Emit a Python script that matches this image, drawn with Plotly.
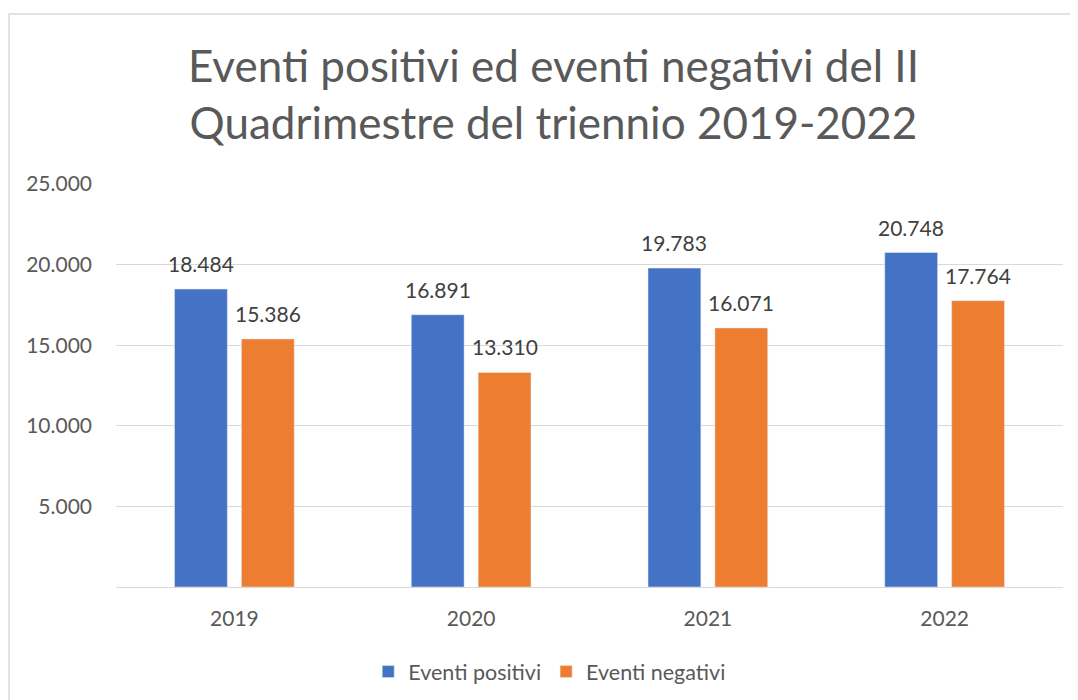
import plotly.graph_objects as go

years = ["2019", "2020", "2021", "2022"]
positivi = [18484, 16891, 19783, 20748]
negativi = [15386, 13310, 16071, 17764]
tick_vals = [0, 5000, 10000, 15000, 20000, 25000]
tick_text = ["", "5.000", "10.000", "15.000", "20.000", "25.000"]

FONT = "Lato"
BLUE = "#4472C4"
ORANGE = "#ED7D31"

def fmt(v):
    return f"{v:,}".replace(",", ".")

fig = go.Figure()
fig.add_trace(go.Bar(x=years, y=positivi, name="Eventi positivi", marker_color=BLUE))
fig.add_trace(go.Bar(x=years, y=negativi, name="Eventi negativi", marker_color=ORANGE))

annotations = []
for series, shift in ((positivi, -33.5), (negativi, 33.5)):
    for i, v in enumerate(series):
        annotations.append(dict(
            x=i, y=v, xref="x", yref="y", text=fmt(v), showarrow=False,
            xshift=shift, yanchor="bottom", yshift=11,
            font=dict(family=FONT, size=21, color="#404040"),
        ))

fig.update_layout(
    width=1078, height=700,
    margin=dict(l=108, r=23, t=176, b=121, autoexpand=False),
    paper_bgcolor="white", plot_bgcolor="white",
    barmode="group", bargap=0.435, bargroupgap=0.21,
    separators=",.",
    title=dict(
        text="Eventi positivi ed eventi negativi del II<br>Quadrimestre del triennio 2019-2022",
        x=0.506, xanchor="center", xref="container",
        y=1 - 74 / 700, yanchor="middle", yref="container",
        font=dict(family=FONT, size=44, color="#595959"),
    ),
    font=dict(family=FONT, color="#595959"),
    xaxis=dict(
        type="category", range=[-0.5, len(years) - 0.5],
        showgrid=False, showline=False, ticks="",
        tickfont=dict(family=FONT, size=21, color="#595959"),
        ticklabelstandoff=17,
    ),
    yaxis=dict(
        range=[0, 25000], tickvals=tick_vals, ticktext=tick_text,
        showgrid=True, gridcolor="#D9D9D9", gridwidth=1,
        zeroline=True, zerolinecolor="#D9D9D9", zerolinewidth=1,
        showline=False, ticks="",
        tickfont=dict(family=FONT, size=21, color="#595959"),
        ticklabelstandoff=23,
    ),
    legend=dict(
        orientation="h", x=0.458, xanchor="center", y=-0.21, yanchor="middle",
        font=dict(family=FONT, size=21.5, color="#595959"),
        itemwidth=30, traceorder="normal",
    ),
    annotations=annotations,
    shapes=[dict(
        type="rect", xref="paper", yref="paper",
        x0=-0.113, x1=1.05, y0=-0.4, y1=1.422,
        line=dict(color="#D9D9D9", width=1.5), fillcolor="rgba(0,0,0,0)",
        layer="below",
    )],
)

fig.write_html("out.html")
